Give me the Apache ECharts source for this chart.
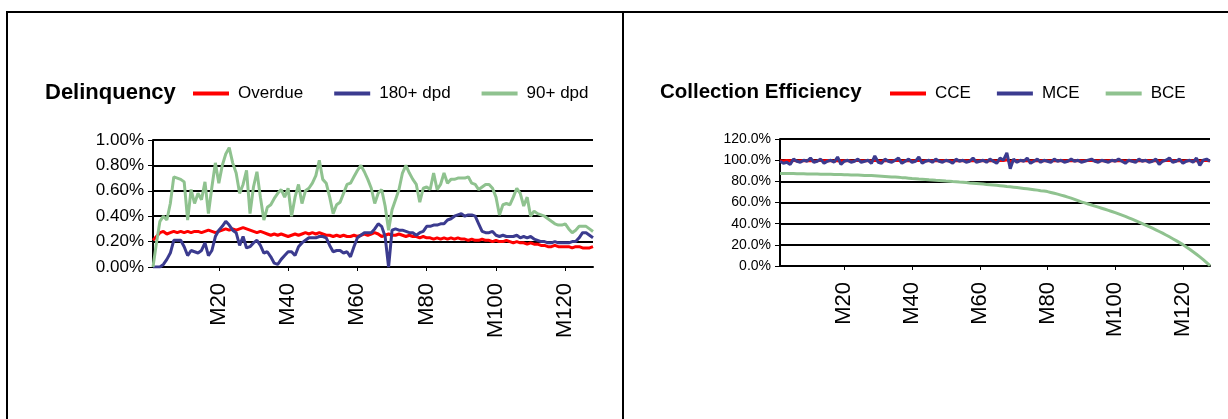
<!DOCTYPE html>
<html>
<head>
<meta charset="utf-8">
<script src="https://cdn.jsdelivr.net/npm/echarts@6/dist/echarts.min.js"></script>
<style>
  html, body { margin: 0; padding: 0; background: #fff; }
  #main { width: 1228px; height: 419px; }
</style>
</head>
<body>
<div id="main"></div>
<script>
var categories = [];
for (var i = 1; i <= 128; i++) categories.push('M' + i);

var delinqTicks = [0, 0.2, 0.4, 0.6, 0.8, 1.0];
var effTicks = [0, 20, 40, 60, 80, 100, 120];

var overdue = [
  0.21, 0.24, 0.27, 0.28, 0.26, 0.27, 0.28, 0.27, 0.28, 0.27,
  0.28, 0.27, 0.28, 0.28, 0.27, 0.28, 0.29, 0.28, 0.27, 0.28,
  0.29, 0.30, 0.29, 0.30, 0.29, 0.30, 0.31, 0.30, 0.29, 0.28,
  0.27, 0.28, 0.27, 0.26, 0.25, 0.26, 0.25, 0.26, 0.25, 0.24,
  0.25, 0.26, 0.25, 0.26, 0.27, 0.26, 0.27, 0.26, 0.27, 0.26,
  0.25, 0.25, 0.24, 0.25, 0.24, 0.25, 0.24, 0.24, 0.25, 0.24,
  0.25, 0.26, 0.25, 0.26, 0.27, 0.26, 0.24, 0.25, 0.26, 0.25,
  0.25, 0.26, 0.25, 0.24, 0.25, 0.24, 0.24, 0.23, 0.24, 0.23,
  0.23, 0.22, 0.23, 0.22, 0.23, 0.22, 0.23, 0.22, 0.23, 0.22,
  0.22, 0.21, 0.22, 0.21, 0.21, 0.22, 0.21, 0.21, 0.20, 0.21,
  0.20, 0.20, 0.21, 0.20, 0.19, 0.20, 0.19, 0.19, 0.18, 0.19,
  0.18, 0.18, 0.17, 0.17, 0.16, 0.16, 0.17, 0.16, 0.16, 0.16,
  0.16, 0.15, 0.16, 0.16, 0.15, 0.15, 0.15, 0.16
];

var dpd180 = [
  0.00, 0.00, 0.00, 0.02, 0.06, 0.11, 0.21, 0.21, 0.21, 0.16,
  0.09, 0.13, 0.12, 0.11, 0.13, 0.19, 0.09, 0.13, 0.24, 0.29,
  0.32, 0.36, 0.33, 0.29, 0.27, 0.17, 0.24, 0.15, 0.16, 0.19,
  0.21, 0.17, 0.11, 0.12, 0.08, 0.03, 0.02, 0.06, 0.09, 0.12,
  0.12, 0.09, 0.16, 0.19, 0.21, 0.23, 0.23, 0.23, 0.24, 0.24,
  0.23, 0.17, 0.12, 0.13, 0.13, 0.11, 0.12, 0.08, 0.16, 0.23,
  0.25, 0.27, 0.27, 0.27, 0.30, 0.34, 0.32, 0.24, 0.00, 0.29,
  0.30, 0.29, 0.29, 0.28, 0.27, 0.27, 0.25, 0.27, 0.28, 0.32,
  0.32, 0.33, 0.33, 0.34, 0.34, 0.37, 0.38, 0.40, 0.41, 0.42,
  0.40, 0.41, 0.41, 0.40, 0.34, 0.28, 0.27, 0.27, 0.28, 0.25,
  0.24, 0.25, 0.24, 0.24, 0.24, 0.25, 0.23, 0.24, 0.23, 0.24,
  0.22, 0.21, 0.20, 0.20, 0.19, 0.19, 0.20, 0.19, 0.19, 0.19,
  0.19, 0.20, 0.20, 0.23, 0.27, 0.27, 0.25, 0.23
];

var dpd90 = [
  0.00, 0.19, 0.36, 0.40, 0.37, 0.50, 0.71, 0.70, 0.69, 0.67,
  0.37, 0.61, 0.50, 0.58, 0.53, 0.67, 0.42, 0.63, 0.82, 0.66,
  0.80, 0.89, 0.94, 0.82, 0.74, 0.58, 0.65, 0.76, 0.42, 0.63,
  0.75, 0.55, 0.37, 0.47, 0.49, 0.54, 0.58, 0.61, 0.55, 0.62,
  0.40, 0.55, 0.65, 0.50, 0.60, 0.62, 0.66, 0.72, 0.84, 0.69,
  0.66, 0.55, 0.42, 0.49, 0.51, 0.58, 0.65, 0.66, 0.71, 0.76,
  0.80, 0.75, 0.69, 0.62, 0.50, 0.58, 0.61, 0.48, 0.29, 0.45,
  0.53, 0.61, 0.74, 0.80, 0.74, 0.69, 0.65, 0.51, 0.62, 0.63,
  0.61, 0.74, 0.61, 0.65, 0.74, 0.66, 0.69, 0.69, 0.70, 0.70,
  0.70, 0.71, 0.66, 0.65, 0.61, 0.63, 0.65, 0.65, 0.62, 0.55,
  0.41, 0.49, 0.50, 0.49, 0.55, 0.62, 0.58, 0.48, 0.55, 0.40,
  0.44, 0.42, 0.41, 0.40, 0.38, 0.36, 0.34, 0.33, 0.33, 0.34,
  0.30, 0.27, 0.29, 0.32, 0.32, 0.32, 0.30, 0.28
];

var cce = [
  99.5, 99.2, 99.6, 99.4, 99.8, 99.3, 99.5, 99.7, 99.4, 99.6,
  99.3, 99.5, 99.8, 99.4, 99.6, 99.5, 99.2, 99.7, 99.4, 99.5,
  99.6, 99.3, 99.5, 99.8, 99.4, 99.5, 99.7, 99.3, 99.9, 99.4,
  99.3, 99.6, 99.5, 99.4, 99.7, 99.6, 99.3, 99.5, 99.6, 99.4,
  99.5, 99.8, 99.3, 99.5, 99.6, 99.4, 99.7, 99.5, 99.4, 99.6,
  99.5, 99.3, 99.6, 99.5, 99.6, 99.4, 99.5, 99.7, 99.4, 99.5,
  99.6, 99.4, 99.7, 99.5, 99.3, 99.7, 99.6, 100.4, 98.6, 99.7,
  99.4, 99.6, 99.5, 99.7, 99.3, 99.5, 99.6, 99.4, 99.6, 99.5,
  99.4, 99.6, 99.5, 99.6, 99.4, 99.5, 99.6, 99.5, 99.6, 99.4,
  99.5, 99.6, 99.7, 99.5, 99.4, 99.6, 99.5, 99.4, 99.6, 99.5,
  99.6, 99.5, 99.3, 99.6, 99.5, 99.4, 99.6, 99.5, 99.6, 99.4,
  99.5, 99.7, 99.2, 99.5, 99.6, 99.7, 99.4, 99.5, 99.6, 99.3,
  99.5, 99.6, 99.4, 99.7, 99.1, 99.6, 99.6, 99.5
];

var mce = [
  99, 97, 98, 96, 101, 99, 98, 100, 99, 102,
  98, 99, 101, 97, 99, 100, 98, 103, 96, 99,
  100, 98, 99, 101, 98, 99, 100, 97, 104, 98,
  97, 101, 99, 98, 100, 102, 97, 99, 101, 98,
  99, 103, 97, 99, 100, 98, 101, 99, 98, 100,
  99, 97, 101, 99, 100, 98, 99, 102, 98, 99,
  100, 98, 101, 99, 97, 102, 100, 107, 92, 101,
  98, 100, 99, 102, 97, 99, 101, 98, 100, 99,
  98, 101, 99, 100, 98, 99, 101, 99, 100, 98,
  99, 100, 101, 99, 98, 100, 99, 98, 100, 99,
  101, 99, 97, 100, 99, 98, 101, 99, 100, 98,
  99, 101, 96, 99, 100, 102, 98, 99, 101, 97,
  99, 100, 98, 102, 95, 100, 101, 99
];

var bce = [
  87.5, 87.4, 87.4, 87.3, 87.3, 87.2, 87.2, 87.1, 87.0, 87.0,
  86.9, 86.9, 86.8, 86.7, 86.7, 86.6, 86.5, 86.4, 86.4, 86.3,
  86.2, 86.1, 86.0, 85.9, 85.8, 85.6, 85.5, 85.4, 85.2, 85.0,
  84.8, 84.6, 84.4, 84.2, 84.0, 83.8, 83.5, 83.3, 83.0, 82.7,
  82.5, 82.2, 82.0, 81.8, 81.5, 81.3, 81.0, 80.8, 80.6, 80.3,
  80.1, 79.8, 79.6, 79.3, 79.1, 78.8, 78.5, 78.3, 78.0, 77.7,
  77.4, 77.1, 76.8, 76.5, 76.2, 75.9, 75.6, 75.2, 74.9, 74.5,
  74.1, 73.7, 73.3, 72.9, 72.5, 72.1, 71.7, 71.2, 70.8, 70.3,
  69.5, 68.7, 67.9, 67.0, 66.1, 65.1, 64.1, 63.0, 61.8, 60.6,
  59.6, 58.6, 57.6, 56.6, 55.6, 54.6, 53.6, 52.6, 51.5, 50.4,
  49.2, 48.0, 46.8, 45.5, 44.2, 42.9, 41.5, 40.1, 38.7, 37.2,
  35.7, 34.2, 32.6, 31.0, 29.3, 27.6, 25.8, 24.0, 22.1, 20.2,
  18.0, 15.8, 13.5, 11.1, 8.6, 6.0, 3.2, 0.4
];

var RED = '#ff0000', NAVY = '#3b3b8f', GREEN = '#8fc28f';
var FONT = '"Liberation Sans", Arial, sans-serif';

function everyTwenty(index) { return (index + 1) % 20 === 0; }

function xAxisFor(gridIndex) {
  return {
    type: 'category', gridIndex: gridIndex, data: categories, boundaryGap: false,
    axisLine: { lineStyle: { color: '#000', width: 2 } },
    axisTick: { interval: everyTwenty, length: 4, lineStyle: { color: '#000', width: 1 } },
    axisLabel: { interval: everyTwenty, rotate: 90, margin: 16, color: '#000', fontSize: 22, fontFamily: FONT },
    splitLine: { show: false }
  };
}

function yAxisFor(gridIndex, ticks, digits, size) {
  return {
    type: 'value', gridIndex: gridIndex,
    min: ticks[0], max: ticks[ticks.length - 1], interval: ticks[1] - ticks[0],
    axisLine: { show: true, lineStyle: { color: '#000', width: 2 } },
    axisTick: { show: true, length: 5, lineStyle: { color: '#000', width: 1 } },
    axisLabel: {
      margin: 9, color: '#000', fontSize: size, fontFamily: FONT,
      formatter: function (v) { return v.toFixed(digits) + '%'; }
    },
    splitLine: { show: true, lineStyle: { color: '#000', width: 2 } }
  };
}

function lineSeries(name, data, color, idx, width) {
  return {
    name: name, type: 'line', data: data, xAxisIndex: idx, yAxisIndex: idx,
    symbol: 'none', smooth: false, color: color,
    lineStyle: { color: color, width: width }
  };
}

var myChart = echarts.init(document.getElementById('main'));
var option = {
  animation: false,
  backgroundColor: '#fff',
  title: [
    { text: 'Delinquency', left: 45, top: 82, padding: 0,
      textStyle: { fontFamily: FONT, fontSize: 22, fontWeight: 'bold', color: '#000' } },
    { text: 'Collection Efficiency', left: 660, top: 82, padding: 0,
      textStyle: { fontFamily: FONT, fontSize: 20.5, fontWeight: 'bold', color: '#000' } }
  ],
  legend: [
    { data: ['Overdue', '180+ dpd', '90+ dpd'], left: 193, top: 85, padding: 0,
      icon: 'rect', itemWidth: 36, itemHeight: 4, itemGap: 31,
      textStyle: { fontFamily: FONT, fontSize: 17, color: '#000', padding: [0, 0, 0, 4] } },
    { data: ['CCE', 'MCE', 'BCE'], left: 890, top: 85, padding: 0,
      icon: 'rect', itemWidth: 36, itemHeight: 4, itemGap: 26,
      textStyle: { fontFamily: FONT, fontSize: 17, color: '#000', padding: [0, 0, 0, 4] } }
  ],
  grid: [
    { left: 153, top: 140, width: 440, height: 127 },
    { left: 780, top: 139, width: 430, height: 127 }
  ],
  xAxis: [xAxisFor(0), xAxisFor(1)],
  yAxis: [yAxisFor(0, delinqTicks, 2, 17), yAxisFor(1, effTicks, 1, 14)],
  series: [
    lineSeries('Overdue', overdue, RED, 0, 3),
    lineSeries('180+ dpd', dpd180, NAVY, 0, 3),
    lineSeries('90+ dpd', dpd90, GREEN, 0, 3),
    lineSeries('CCE', cce, RED, 1, 3),
    lineSeries('MCE', mce, NAVY, 1, 3),
    lineSeries('BCE', bce, GREEN, 1, 3)
  ],
  graphic: [
    { type: 'line', shape: { x1: 6, y1: 12, x2: 1228, y2: 12 }, style: { stroke: '#000', lineWidth: 2 } },
    { type: 'line', shape: { x1: 7, y1: 12, x2: 7, y2: 419 }, style: { stroke: '#000', lineWidth: 2 } },
    { type: 'line', shape: { x1: 623, y1: 12, x2: 623, y2: 419 }, style: { stroke: '#000', lineWidth: 2 } }
  ]
};
myChart.setOption(option);
</script>
</body>
</html>
